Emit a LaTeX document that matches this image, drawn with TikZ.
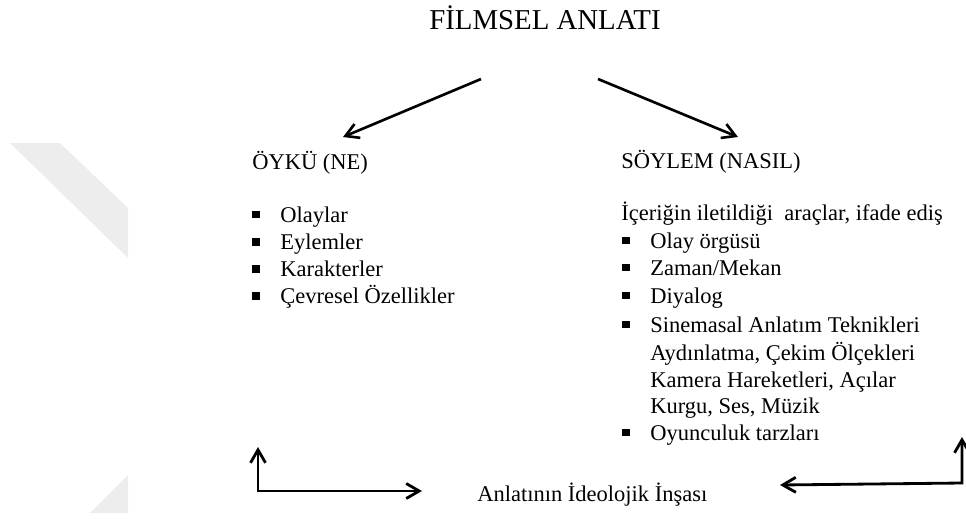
\documentclass[tikz,border=0pt]{standalone}
\usepackage{fontspec}
\setmainfont{Liberation Serif}
\usepackage{tikz}
\usepackage{xcolor}
\usetikzlibrary{positioning, arrows.meta}

\newcommand{\sq}{\makebox[0.56cm][l]{\rule[0.17em]{0.32em}{0.32em}}}

\begin{document}
\begin{tikzpicture}[
        txt/.style={anchor=base west, inner sep=0pt, font=\fontsize{12.8}{14}\selectfont},
        arr/.style={line width=1.5pt, -{Straight Barb[length=2.6mm, width=3mm]}},
        bracket/.style={line width=1.6pt, {Straight Barb[length=2.6mm, width=3mm]}-{Straight Barb[length=2.6mm, width=3mm]}}
    ]
            \useasboundingbox (0, 0) rectangle (19.32, -10.36);

            % watermark
            \fill[black!7] (0.2, -2.86) -- (1.2, -2.86) -- (2.56, -4.16) -- (2.56, -5.16) -- cycle;
            \fill[black!7] (2.56, -9.5) -- (2.56, -10.26) -- (1.8, -10.26) -- cycle;

            \node[anchor=base, inner sep=0pt, font=\fontsize{16.4}{18}\selectfont] (title) at (10.9, -0.58) {FİLMSEL ANLATI};

            \node[txt] (oyku) at (5.04, -3.38) {ÖYKÜ (NE)};
            \node[txt] (o1) at (5.04, -4.44) {\sq Olaylar};
            \node[txt] (o2) at (5.04, -4.99) {\sq Eylemler};
            \node[txt] (o3) at (5.04, -5.53) {\sq Karakterler};
            \node[txt] (o4) at (5.04, -6.07) {\sq Çevresel Özellikler};

            \node[txt] (soylem) at (12.42, -3.37) {SÖYLEM (NASIL)};
            \node[txt] (icerik) at (12.42, -4.40) {İçeriğin iletildiği\ \ araçlar, ifade ediş};
            \node[txt] (s1) at (12.44, -4.96) {\sq Olay örgüsü};
            \node[txt] (s2) at (12.44, -5.50) {\sq Zaman/Mekan};
            \node[txt] (s3) at (12.44, -6.06) {\sq Diyalog};
            \node[txt] (s4) at (12.44, -6.64) {\sq Sinemasal Anlatım Teknikleri};
            \node[txt] (s4a) at (13.00, -7.20) {Aydınlatma, Çekim Ölçekleri};
            \node[txt] (s4b) at (13.00, -7.74) {Kamera Hareketleri, Açılar};
            \node[txt] (s4c) at (13.00, -8.26) {Kurgu, Ses, Müzik};
            \node[txt] (s5) at (12.44, -8.80) {\sq Oyunculuk tarzları};

            \node[txt] (ideo) at (9.54, -10.02) {Anlatının İdeolojik İnşası};

            \coordinate (tl) at (9.62, -1.58);
            \coordinate (tr) at (11.96, -1.58);
            \coordinate (ol) at (6.86, -2.74);
            \coordinate (or) at (14.76, -2.74);

            \coordinate (lup) at (5.16, -8.94);
            \coordinate (lcorner) at (5.16, -9.82);
            \coordinate (lright) at (8.44, -9.82);
            \coordinate (rup) at (19.24, -8.74);
            \coordinate (rcorner) at (19.24, -9.66);
            \coordinate (rleft) at (15.6, -9.70);

            \draw[arr] (tl) -- (ol);
            \draw[arr] (tr) -- (or);
            \draw[bracket] (lup) -- (lcorner) -- (lright);
            \draw[bracket] (rup) -- (rcorner) -- (rleft);
        \end{tikzpicture}
\end{document}
